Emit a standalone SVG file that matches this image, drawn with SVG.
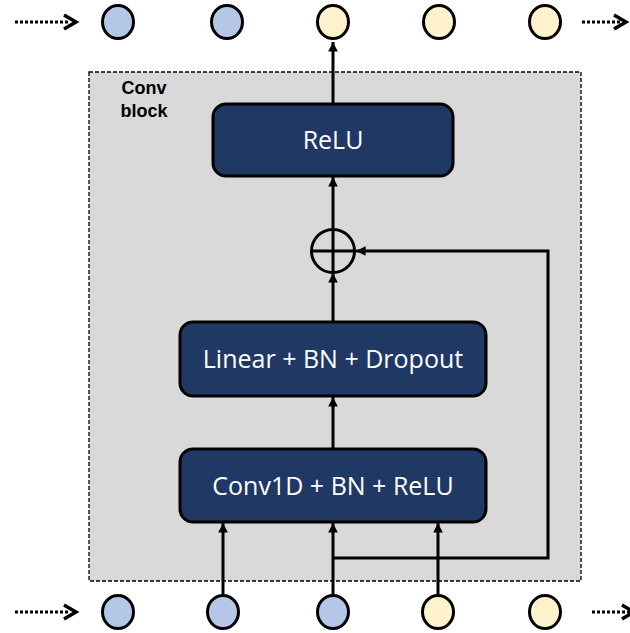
<svg xmlns="http://www.w3.org/2000/svg" width="630" height="633" viewBox="0 0 630 633">
<defs>
<style>
.blue{fill:#B4C7E7;stroke:#000;stroke-width:3}
.yel{fill:#FFF2CC;stroke:#000;stroke-width:3}
.box{fill:#203864;stroke:#000;stroke-width:3}
.btxt{fill:#fff;font-family:"Open Sans","Noto Sans",sans-serif;font-size:25px;text-anchor:middle}
.conn{fill:none;stroke:#000;stroke-width:3}
.dot{fill:none;stroke:#000;stroke-width:3;stroke-dasharray:3 2}
.chev{fill:none;stroke:#000;stroke-width:3.5;stroke-linejoin:miter}
.lbl{font-family:"Liberation Sans",Arial,sans-serif;font-weight:bold;font-size:18px;fill:#000;text-anchor:middle}
</style>
<marker id="ah" viewBox="0 0 10 10" refX="10" refY="5" markerWidth="3.2" markerHeight="3.2" orient="auto" markerUnits="strokeWidth">
<path d="M0,0 L10,5 L0,10 z" fill="#000"/>
</marker>
</defs>
<rect width="630" height="633" fill="#fff"/>
<g id="conv-block">
<rect x="89" y="72" width="492" height="509" fill="#D9D9D9" stroke="#000" stroke-width="1.3" stroke-dasharray="4 2"/>
<text class="lbl" x="144" y="94">Conv</text>
<text class="lbl" x="144" y="117">block</text>
</g>
<g id="connectors">
<path class="conn" d="M333,104 V42" marker-end="url(#ah)"/>
<path class="conn" d="M333,228 V177" marker-end="url(#ah)"/>
<path class="conn" d="M333,322 V273" marker-end="url(#ah)"/>
<path class="conn" d="M333,449 V397" marker-end="url(#ah)"/>
<path class="conn" d="M223,594 V523" marker-end="url(#ah)"/>
<path class="conn" d="M333,594 V523" marker-end="url(#ah)"/>
<path class="conn" d="M438,594 V523" marker-end="url(#ah)"/>
<path class="conn" d="M333,558 H548 V251 H356" marker-end="url(#ah)"/>
<g id="dotted-arrows">
<path class="dot" d="M15,22 H70"/><path class="chev" d="M64,15 L76,22 L64,29"/>
<path class="dot" d="M582,22 H621"/><path class="chev" d="M614,15 L626,22 L614,29"/>
<path class="dot" d="M15,612 H70"/><path class="chev" d="M64,605 L76,612 L64,619"/>
<path class="dot" d="M592,612 H630"/><path class="chev" d="M622,605 L634,612 L622,619"/>
</g>
</g>
<g id="top-circles">
<ellipse class="blue" cx="118" cy="22" rx="15.5" ry="16.5"/>
<ellipse class="blue" cx="227" cy="22" rx="15.5" ry="16.5"/>
<ellipse class="yel" cx="333" cy="22" rx="15.5" ry="16.5"/>
<ellipse class="yel" cx="439" cy="22" rx="15.5" ry="16.5"/>
<ellipse class="yel" cx="545" cy="22" rx="15.5" ry="16.5"/>
</g>
<g id="bottom-circles">
<ellipse class="blue" cx="118" cy="612" rx="15.5" ry="16.5"/>
<ellipse class="blue" cx="223" cy="612" rx="15.5" ry="16.5"/>
<ellipse class="blue" cx="333" cy="612" rx="15.5" ry="16.5"/>
<ellipse class="yel" cx="438" cy="612" rx="15.5" ry="16.5"/>
<ellipse class="yel" cx="545" cy="612" rx="15.5" ry="16.5"/>
</g>
<g id="relu">
<rect class="box" x="213" y="104" width="240" height="72" rx="13"/>
<text class="btxt" x="333" y="149">ReLU</text>
</g>
<g id="add">
<circle cx="333" cy="251" r="21.5" fill="none" stroke="#000" stroke-width="3"/>
<path class="conn" d="M311.5,251 H354.5 M333,229.5 V272.5"/>
</g>
<g id="linear">
<rect class="box" x="180" y="322" width="306" height="74" rx="13"/>
<text class="btxt" x="333" y="368">Linear + BN + Dropout</text>
</g>
<g id="conv1d">
<rect class="box" x="180" y="449" width="306" height="73" rx="13"/>
<text class="btxt" x="333" y="495">Conv1D + BN + ReLU</text>
</g>
</svg>
